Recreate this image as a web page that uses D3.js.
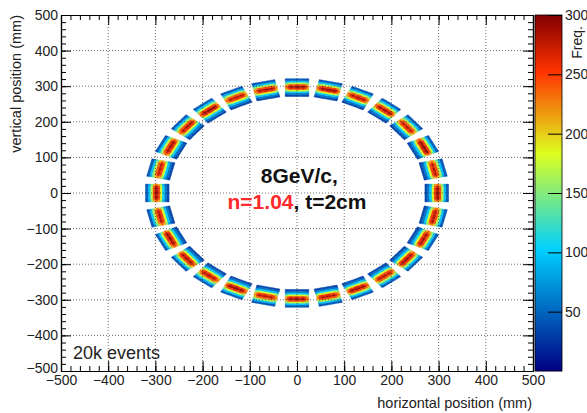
<!DOCTYPE html>
<html>
<head>
<meta charset="utf-8">
<script src="https://cdn.jsdelivr.net/npm/d3@7"></script>
<style>
    body { margin: 0; background: #fff; }
    text { font-family: "Liberation Sans", Arial, sans-serif; }
</style>
</head>
<body>
<div id="chart"></div>
<script>
// Segment angles (deg) of the 28 detector tiles around the ring
const seg_angles = [0, 12.9, 25.7, 38.6, 51.4, 64.3, 77.1, 90, 102.9, 115.7, 128.6, 141.4, 154.3, 167.1,
    180, 192.9, 205.7, 218.6, 231.4, 244.3, 257.1, 270, 282.9, 295.7, 308.6, 321.4, 334.3, 347.1];
// Relative peak height per tile
const seg_peak = [1.0, 0.97, 1.02, 0.96, 1.0, 0.98, 1.01, 1.0, 0.99, 0.97, 1.02, 0.98, 1.0, 0.96,
    1.0, 0.97, 1.01, 0.99, 0.98, 1.02, 0.97, 1.0, 0.98, 1.01, 0.97, 1.0, 0.99, 0.98];
// Counts per 5 mm radial bin across a tile, inner -> outer
const radial_profile = [35, 58, 105, 190, 265, 295, 255, 175, 100, 45];
// Tangential weights per 5 mm bin across a tile
const tang_weight = [0.8, 0.94, 1.0, 0.96, 1.0, 0.99, 0.95, 1.0, 0.93, 0.82];
const ring_radius = 296;
const bin_size = 5;

const x_ticks = [-500, -400, -300, -200, -100, 0, 100, 200, 300, 400, 500];
const y_ticks = [-500, -400, -300, -200, -100, 0, 100, 200, 300, 400, 500];
const z_ticks = [50, 100, 150, 200, 250, 300];

const chart_width = 587;
const chart_height = 413;
const plot = { left: 61, right: 533, top: 15, bottom: 371 };
const bar = { left: 535, right: 562 };

const svg = d3.select('#chart')
    .append('svg')
    .attr('width', chart_width)
    .attr('height', chart_height);

// Scales
const x_scale = d3.scaleLinear().domain([-500, 500]).range([plot.left, plot.right]);
const y_scale = d3.scaleLinear().domain([-500, 500]).range([plot.bottom, plot.top]);
const z_scale = d3.scaleLinear().domain([0, 300]).range([plot.bottom, plot.top]);

const color = d3.scaleLinear()
    .domain([0, 102, 183, 252, 300])
    .range(['rgb(0,0,130)', 'rgb(0,207,255)', 'rgb(222,255,31)', 'rgb(255,51,0)', 'rgb(130,0,0)'])
    .clamp(true);

// Build histogram cells
const cells = [];
seg_angles.forEach((a, s) => {
    const th = a * Math.PI / 180;
    const c = Math.cos(th), sn = Math.sin(th);
    radial_profile.forEach((rv, i) => {
        tang_weight.forEach((tw, j) => {
            const r0 = ring_radius - 25 + i * bin_size, r1 = r0 + bin_size;
            const t0 = -25 + j * bin_size, t1 = t0 + bin_size;
            const pts = [[r0, t0], [r1, t0], [r1, t1], [r0, t1]]
                .map(([r, t]) => [r * c - t * sn, r * sn + t * c]);
            cells.push({ pts: pts, value: rv * tw * seg_peak[s] });
        });
    });
});

svg.append('g')
    .selectAll('polygon')
    .data(cells)
    .enter()
    .append('polygon')
    .attr('points', d => d.pts.map(p => x_scale(p[0]) + ',' + y_scale(p[1])).join(' '))
    .attr('fill', d => color(d.value))
    .attr('stroke', d => color(d.value))
    .attr('stroke-width', 0.4);

// Grid
const grid = svg.append('g')
    .attr('stroke', '#333')
    .attr('stroke-width', 0.7)
    .attr('stroke-dasharray', '1,2');

grid.selectAll('.gx')
    .data(x_ticks.slice(1, -1))
    .enter()
    .append('line')
    .attr('x1', d => x_scale(d)).attr('x2', d => x_scale(d))
    .attr('y1', plot.top).attr('y2', plot.bottom);

grid.selectAll('.gy')
    .data(y_ticks.slice(1, -1))
    .enter()
    .append('line')
    .attr('y1', d => y_scale(d)).attr('y2', d => y_scale(d))
    .attr('x1', plot.left).attr('x2', plot.right);

// Axes
const minor = d3.range(-500, 501, 20);

function style_axis(g) {
    g.selectAll('path').attr('stroke', '#000').attr('stroke-width', 1.2);
    g.selectAll('line').attr('stroke', '#000');
    g.selectAll('text').attr('font-size', 14).attr('fill', '#222')
        .style('font-family', '"Liberation Sans", Arial, sans-serif');
}

svg.append('g')
    .attr('transform', `translate(0, ${plot.bottom})`)
    .call(d3.axisBottom(x_scale).tickValues(minor).tickSize(-5).tickFormat('').tickSizeOuter(0))
    .call(style_axis);
svg.append('g')
    .attr('transform', `translate(0, ${plot.bottom})`)
    .call(d3.axisBottom(x_scale).tickValues(x_ticks).tickSize(-10).tickPadding(4).tickSizeOuter(0))
    .call(style_axis);

svg.append('g')
    .attr('transform', `translate(0, ${plot.top})`)
    .call(d3.axisTop(x_scale).tickValues(minor).tickSize(-5).tickFormat('').tickSizeOuter(0))
    .call(style_axis);
svg.append('g')
    .attr('transform', `translate(0, ${plot.top})`)
    .call(d3.axisTop(x_scale).tickValues(x_ticks).tickSize(-10).tickFormat('').tickSizeOuter(0))
    .call(style_axis);

svg.append('g')
    .attr('transform', `translate(${plot.left}, 0)`)
    .call(d3.axisLeft(y_scale).tickValues(minor).tickSize(-5).tickFormat('').tickSizeOuter(0))
    .call(style_axis);
svg.append('g')
    .attr('transform', `translate(${plot.left}, 0)`)
    .call(d3.axisLeft(y_scale).tickValues(y_ticks).tickSize(-10).tickPadding(3).tickSizeOuter(0))
    .call(style_axis)
    .call(g => g.selectAll('.tick text').filter(d => d === -500).attr('dy', '0.1em'));

svg.append('g')
    .attr('transform', `translate(${plot.right}, 0)`)
    .call(d3.axisRight(y_scale).tickValues(minor).tickSize(-5).tickFormat('').tickSizeOuter(0))
    .call(style_axis);
svg.append('g')
    .attr('transform', `translate(${plot.right}, 0)`)
    .call(d3.axisRight(y_scale).tickValues(y_ticks).tickSize(-10).tickFormat('').tickSizeOuter(0))
    .call(style_axis);

// Colour bar
const bar_rows = d3.range(plot.top, plot.bottom, 1);
svg.append('g')
    .selectAll('rect')
    .data(bar_rows)
    .enter()
    .append('rect')
    .attr('x', bar.left)
    .attr('y', d => d)
    .attr('width', bar.right - bar.left)
    .attr('height', 1.2)
    .attr('fill', d => color(z_scale.invert(d + 0.5)));

svg.append('rect')
    .attr('x', bar.left).attr('y', plot.top)
    .attr('width', bar.right - bar.left).attr('height', plot.bottom - plot.top)
    .attr('fill', 'none').attr('stroke', '#000').attr('stroke-width', 0.8);

svg.append('g')
    .attr('transform', `translate(${bar.right}, 0)`)
    .call(d3.axisRight(z_scale).tickValues(z_ticks).tickSize(-14).tickPadding(3).tickSizeOuter(0))
    .call(style_axis)
    .call(g => g.select('.domain').remove());

svg.append('text')
    .attr('transform', 'translate(582, 26) rotate(-90)')
    .attr('text-anchor', 'end')
    .attr('font-size', 14)
    .attr('fill', '#222')
    .text('Freq.');

// Axis titles
svg.append('text')
    .attr('x', 532).attr('y', 408)
    .attr('text-anchor', 'end')
    .attr('font-size', 14.5)
    .attr('fill', '#222')
    .text('horizontal position (mm)');

svg.append('text')
    .attr('transform', 'translate(21, 15) rotate(-90)')
    .attr('text-anchor', 'end')
    .attr('font-size', 14.5)
    .attr('fill', '#222')
    .text('vertical position (mm)');

// Annotations
svg.append('text')
    .attr('x', 73).attr('y', 359)
    .attr('font-size', 18)
    .attr('fill', '#222')
    .text('20k events');

svg.append('text')
    .attr('x', x_scale(5)).attr('y', 183)
    .attr('text-anchor', 'middle')
    .attr('font-size', 21)
    .attr('font-weight', 'bold')
    .attr('fill', '#111')
    .text('8GeV/c,');

const line2 = svg.append('text')
    .attr('x', x_scale(0)).attr('y', 209)
    .attr('text-anchor', 'middle')
    .attr('font-size', 21)
    .attr('font-weight', 'bold')
    .attr('fill', '#111');
line2.append('tspan').attr('fill', '#ff2a2a').text('n=1.04');
line2.append('tspan').text(', t=2cm');
</script>
</body>
</html>
